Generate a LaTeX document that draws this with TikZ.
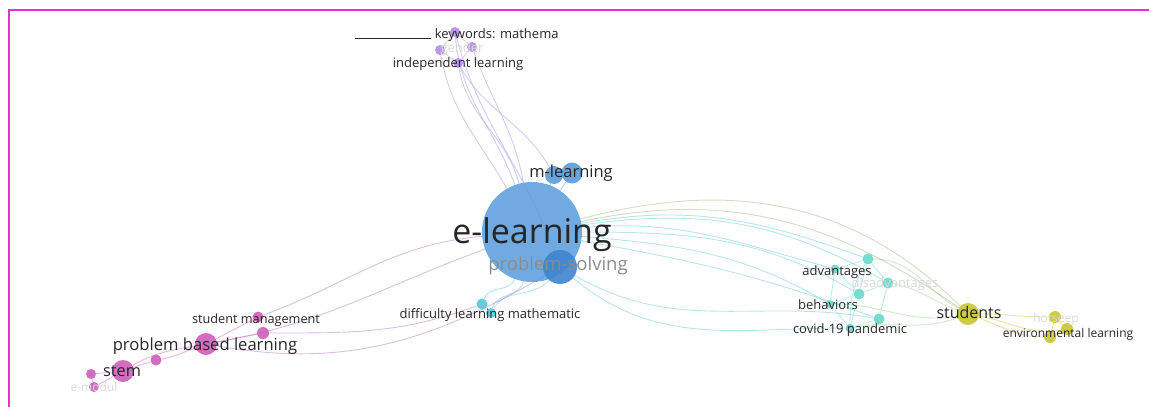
\documentclass[tikz,border=0pt]{standalone}
\usepackage{fontspec}
\setmainfont{Open Sans}
\usetikzlibrary{backgrounds}

\definecolor{frameclr}{RGB}{232,46,214}
\definecolor{blueclr}{RGB}{88,155,218}
\definecolor{dblueclr}{RGB}{62,132,205}
\definecolor{purpclr}{RGB}{178,140,228}
\definecolor{pinkclr}{RGB}{204,94,184}
\definecolor{tealclr}{RGB}{104,216,200}
\definecolor{cyanclr}{RGB}{80,200,220}
\definecolor{yellclr}{RGB}{200,196,52}

\tikzset{
  bub/.style={circle, inner sep=0pt, draw=none, fill opacity=0.9},
  lab/.style={anchor=base, inner sep=0pt, text=black!85},
  faint/.style={anchor=base, inner sep=0pt, text=black!15},
  link/.style={line width=0.9pt, draw opacity=0.45},
}

\begin{document}
\begin{tikzpicture}[x=1pt,y=-1pt]
\useasboundingbox (0,0) rectangle (1149,407);
\draw[frameclr, line width=2.4pt] (9,407) -- (9,10) -- (1149,10);

% blue cluster
\node[bub, fill=blueclr, fill opacity=0.85, minimum size=100pt] (el) at (532,232) {};
\node[bub, fill=dblueclr, minimum size=34pt] (ps) at (560,267) {};
\node[bub, fill=blueclr, minimum size=18pt] (ml1) at (554,175) {};
\node[bub, fill=blueclr, minimum size=21pt] (ml2) at (572,173) {};

% purple cluster
\node[bub, fill=purpclr, minimum size=10pt] (kw) at (455,32) {};
\node[bub, fill=purpclr, minimum size=10pt] (pu1) at (440,50) {};
\node[bub, fill=purpclr, minimum size=10pt] (pu2) at (472,47) {};
\node[bub, fill=purpclr, minimum size=10pt] (il) at (458,63) {};

% cyan
\node[bub, fill=cyanclr, minimum size=11pt] (dif1) at (482,304) {};
\node[bub, fill=cyanclr, minimum size=10pt] (dif2) at (491,313) {};

% pink cluster
\node[bub, fill=pinkclr, minimum size=22pt] (pbl) at (206,344) {};
\node[bub, fill=pinkclr, minimum size=11pt] (sm1) at (258,317) {};
\node[bub, fill=pinkclr, minimum size=12pt] (sm2) at (263,333) {};
\node[bub, fill=pinkclr, minimum size=11pt] (pk) at (156,360) {};
\node[bub, fill=pinkclr, minimum size=22pt] (stem) at (123,371) {};
\node[bub, fill=pinkclr, minimum size=10pt] (em1) at (91,374) {};
\node[bub, fill=pinkclr, minimum size=10pt] (em2) at (94,387) {};

% teal cluster
\node[bub, fill=tealclr, minimum size=9pt] (adv) at (835,269) {};
\node[bub, fill=tealclr, minimum size=11pt] (te1) at (868,259) {};
\node[bub, fill=tealclr, minimum size=11pt] (te2) at (888,283) {};
\node[bub, fill=tealclr, minimum size=11pt] (te3) at (859,294) {};
\node[bub, fill=tealclr, minimum size=8pt] (beh) at (830,304) {};
\node[bub, fill=tealclr, minimum size=11pt] (te4) at (879,319) {};
\node[bub, fill=tealclr, minimum size=9pt] (cov) at (850,328) {};

% yellow cluster
\node[bub, fill=yellclr, minimum size=22pt] (stud) at (968,314) {};
\node[bub, fill=yellclr, minimum size=12pt] (ye1) at (1055,317) {};
\node[bub, fill=yellclr, minimum size=12pt] (ye2) at (1067,329) {};
\node[bub, fill=yellclr, minimum size=12pt] (ye3) at (1050,337) {};

% links
\begin{scope}[on background layer]
  \draw[link, purpclr!70!blueclr] (el) to[out=110,in=-85] (kw);
  \draw[link, purpclr!70!blueclr] (el) to[out=120,in=-80] (pu1);
  \draw[link, purpclr!70!blueclr] (el) to[out=100,in=-70] (pu2);
  \draw[link, purpclr!70!blueclr] (el) to[out=105,in=-80] (il);
  \draw[link, purpclr!70!blueclr] (ml1) to[out=120,in=-60] (il);
  \draw[link, purpclr!70!blueclr] (ps) to[out=110,in=-75] (kw);
  \draw[link, purpclr] (kw) -- (pu1) (kw) -- (pu2) (pu1) -- (il) (pu2) -- (il);
  \draw[link, blueclr] (el) -- (ml1) (el) -- (ml2) (el) -- (ps);
  \draw[link, cyanclr] (el) to[out=-110,in=70] (dif1);
  \draw[link, cyanclr] (ps) to[out=-130,in=60] (dif2);
  \draw[link, cyanclr] (el) to[out=-100,in=75] (dif2);
  \draw[link, pinkclr!70!blueclr] (el) to[out=185,in=20] (sm1);
  \draw[link, pinkclr!70!blueclr] (el) to[out=200,in=10] (pbl);
  \draw[link, pinkclr!70!blueclr] (dif1) to[out=200,in=0] (sm2);
  \draw[link, pinkclr!70!blueclr] (ps) to[out=210,in=-10] (pbl);
  \draw[link, pinkclr] (pbl) -- (sm1) (pbl) -- (sm2);
  \draw[link, pinkclr] (pbl) to[out=200,in=10] (pk);
  \draw[link, pinkclr] (pk) to[out=200,in=20] (stem);
  \draw[link, pinkclr] (stem) -- (em1) (stem) -- (em2) (em1) -- (em2);
  \draw[link, pinkclr] (pbl) to[out=190,in=30] (stem);
  \draw[link, tealclr!70!blueclr] (el) to[out=10,in=160] (te1);
  \draw[link, tealclr!70!blueclr] (el) to[out=8,in=150] (te2);
  \draw[link, tealclr!70!blueclr] (el) to[out=5,in=165] (adv);
  \draw[link, tealclr!70!blueclr] (el) to[out=0,in=150] (te3);
  \draw[link, tealclr!70!blueclr] (el) to[out=-5,in=150] (beh);
  \draw[link, tealclr!70!blueclr] (el) to[out=-10,in=160] (te4);
  \draw[link, tealclr!70!blueclr] (ps) to[out=-40,in=180] (cov);
  \draw[link, tealclr!70!blueclr] (ps) to[out=-30,in=170] (te4);
  \draw[link, tealclr] (adv) -- (te1) (adv) -- (te3) (te1) -- (te2) (te1) -- (te3)
    (te2) -- (te3) (te3) -- (beh) (beh) -- (cov) (te3) -- (cov) (te4) -- (cov)
    (te2) -- (te4) (adv) -- (beh) (te1) to[out=-120,in=90] (cov);
  \draw[link, tealclr!60!yellclr] (te1) to[out=0,in=150] (stud);
  \draw[link, tealclr!60!yellclr] (te2) to[out=-10,in=160] (stud);
  \draw[link, tealclr!60!yellclr] (beh) to[out=0,in=190] (stud);
  \draw[link, tealclr!60!yellclr] (cov) to[out=10,in=200] (stud);
  \draw[link, yellclr!60!blueclr] (el) to[out=12,in=145] (stud);
  \draw[link, yellclr!60!blueclr] (el) to[out=15,in=135] (stud);
  \draw[link, yellclr] (stud) to[out=0,in=180] (ye1);
  \draw[link, yellclr] (stud) to[out=-10,in=190] (ye2);
  \draw[link, yellclr] (stud) to[out=-20,in=180] (ye3);
  \draw[link, yellclr] (ye1) -- (ye2) (ye1) -- (ye3) (ye2) -- (ye3);
\end{scope}

% labels
\node[lab, font=\fontsize{34}{34}\selectfont] (lbEl) at (532,243) {e-learning};
\node[lab, text=black!45, font=\fontsize{18.5}{18.5}\selectfont] (lbPs) at (558,270) {problem-solving};
\node[lab, font=\fontsize{16.5}{16.5}\selectfont] (lbMl) at (571,177) {m-learning};
\node[lab, font=\fontsize{13}{13}\selectfont] (lbKw) at (457,38) {\rule[-1pt]{76pt}{0.6pt} keywords: mathema};
\node[faint, font=\fontsize{13}{13}\selectfont] (lbGe) at (462,52) {gender};
\node[lab, font=\fontsize{13}{13}\selectfont] (lbIl) at (458,67) {independent learning};
\node[lab, font=\fontsize{13}{13}\selectfont] (lbDif) at (490,318) {difficulty learning mathematic};
\node[lab, font=\fontsize{12.7}{12.7}\selectfont] (lbSm) at (256,323) {student management};
\node[lab, font=\fontsize{16.6}{16.6}\selectfont] (lbPbl) at (205,350) {problem based learning};
\node[lab, font=\fontsize{16.3}{16.3}\selectfont] (lbStem) at (122,376) {stem};
\node[faint, font=\fontsize{12}{12}\selectfont] (lbEm) at (94,391) {e-modul};
\node[lab, font=\fontsize{13}{13}\selectfont] (lbAdv) at (837,275) {advantages};
\node[faint, font=\fontsize{13}{13}\selectfont] (lbDis) at (895,287) {disadvantages};
\node[lab, font=\fontsize{13}{13}\selectfont] (lbBeh) at (828,309) {behaviors};
\node[lab, font=\fontsize{13}{13}\selectfont] (lbCov) at (850,333) {covid-19 pandemic};
\node[lab, font=\fontsize{16}{16}\selectfont] (lbStud) at (969,318) {students};
\node[faint, font=\fontsize{12}{12}\selectfont] (lbHo) at (1056,322) {hotseep};
\node[lab, font=\fontsize{12}{12}\selectfont] (lbEnv) at (1068,337) {environmental learning};
\end{tikzpicture}
\end{document}
